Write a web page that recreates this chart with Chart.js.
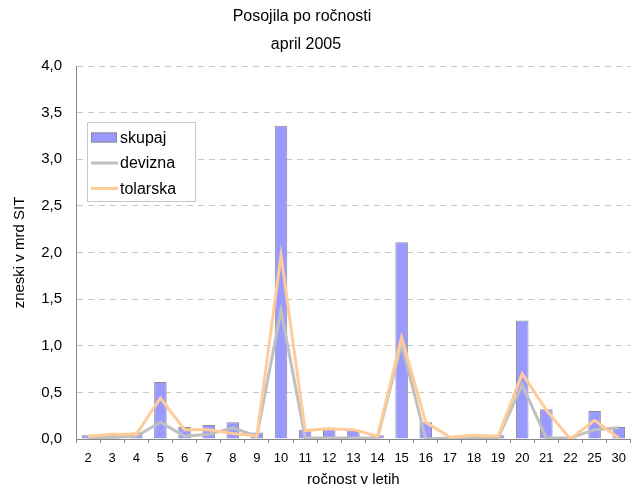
<!DOCTYPE html>
<html>
<head>
<meta charset="utf-8">
<script src="https://cdn.jsdelivr.net/npm/chart.js@4/dist/chart.umd.min.js"></script>
<style>
  html, body { margin: 0; padding: 0; background: #fff; }
  #wrap { width: 634px; height: 493px; }
</style>
</head>
<body>
<div id="wrap"><canvas id="chart" width="634" height="493"></canvas></div>
<script>
// ročnost v letih
const labels = ['2','3','4','5','6','7','8','9','10','11','12','13','14','15','16','17','18','19','20','21','22','25','30'];

// zneski v mrd SIT
const skupaj   = [0.04, 0.06, 0.07, 0.61, 0.13, 0.15, 0.18, 0.07, 3.36, 0.10, 0.12, 0.10, 0.04, 2.11, 0.18, 0.01, 0.01, 0.04, 1.27, 0.32, 0.01, 0.30, 0.13];
const devizna  = [0.01, 0.02, 0.03, 0.18, 0.03, 0.05, 0.12, 0.03, 1.38, 0.01, 0.01, 0.01, 0.01, 1.02, 0.00, 0.01, 0.01, 0.01, 0.58, 0.01, 0.01, 0.10, 0.12];
const tolarska = [0.03, 0.05, 0.05, 0.44, 0.10, 0.10, 0.06, 0.03, 1.97, 0.09, 0.11, 0.10, 0.03, 1.09, 0.18, 0.02, 0.04, 0.03, 0.70, 0.31, 0.00, 0.20, 0.01];

const yTicks = [0, 0.5, 1, 1.5, 2, 2.5, 3, 3.5, 4];
const titleLines = ['Posojila po ročnosti', 'april 2005'];

const FONT = 'Liberation Sans, Arial, sans-serif';

// two line title, placed a bit left of centre like the original
const titlePlugin = {
    id: 'titleLines',
    afterDraw(chart) {
        const ctx = chart.ctx;
        ctx.save();
        ctx.fillStyle = '#000';
        ctx.font = '16px ' + FONT;
        ctx.textAlign = 'center';
        ctx.textBaseline = 'middle';
        ctx.fillText(titleLines[0], 302, 17);
        ctx.fillText(titleLines[1], 306, 45);
        ctx.restore();
    }
};

// legend box drawn inside the plot
const boxLegend = {
    id: 'boxLegend',
    afterDraw(chart) {
        const ctx = chart.ctx;
        const x = 87, y = 122, w = 108, h = 79;
        ctx.save();
        ctx.fillStyle = '#ffffff';
        ctx.fillRect(x, y, w, h);
        ctx.strokeStyle = '#c8c8c8';
        ctx.lineWidth = 1;
        ctx.strokeRect(x + 0.5, y + 0.5, w, h);
        ctx.font = '16px ' + FONT;
        ctx.textBaseline = 'middle';
        chart.data.datasets.forEach(function(ds, i) {
            const cy = y + 15.5 + i * 25.5;
            if (ds.type === 'line') {
                ctx.strokeStyle = ds.borderColor;
                ctx.lineWidth = 3;
                ctx.beginPath();
                ctx.moveTo(x + 4, cy);
                ctx.lineTo(x + 31, cy);
                ctx.stroke();
            } else {
                ctx.fillStyle = ds.backgroundColor;
                ctx.fillRect(x + 4, cy - 5, 26, 10);
                ctx.strokeStyle = ds.borderColor;
                ctx.lineWidth = 1;
                ctx.strokeRect(x + 4.5, cy - 4.5, 25, 9);
            }
            ctx.fillStyle = '#000';
            ctx.fillText(ds.label, x + 33, cy + 1);
        });
        ctx.restore();
    }
};

const ctx = document.getElementById('chart').getContext('2d');
const chart = new Chart(ctx, {
    type: 'bar',
    data: {
        labels: labels,
        datasets: [
            {
                type: 'bar',
                label: 'skupaj',
                data: skupaj,
                backgroundColor: '#9999FF',
                borderColor: '#8c8c8c',
                borderWidth: 1,
                barPercentage: 0.52,
                categoryPercentage: 1.0,
                order: 3
            },
            {
                type: 'line',
                label: 'devizna',
                data: devizna,
                borderColor: '#C0C0C0',
                borderWidth: 3,
                pointRadius: 0,
                tension: 0,
                order: 2
            },
            {
                type: 'line',
                label: 'tolarska',
                data: tolarska,
                borderColor: '#FFCC99',
                borderWidth: 3,
                pointRadius: 0,
                tension: 0,
                order: 1
            }
        ]
    },
    options: {
        responsive: false,
        animation: false,
        layout: { padding: { left: 0, right: 3, top: 66, bottom: 0 } },
        plugins: {
            legend: { display: false },
            tooltip: { enabled: false },
            title: { display: false }
        },
        scales: {
            x: {
                offset: true,
                grid: {
                    offset: true,
                    drawOnChartArea: false,
                    drawTicks: true,
                    tickLength: 4,
                    color: '#888888'
                },
                border: { color: '#888888', width: 1 },
                ticks: {
                    color: '#000',
                    font: { family: FONT, size: 13 },
                    maxRotation: 0,
                    autoSkip: false,
                    padding: 8
                },
                title: {
                    display: true,
                    text: 'ročnost v letih',
                    color: '#000',
                    font: { family: FONT, size: 15 },
                    padding: { top: 0, bottom: 4 }
                },
                afterFit(scale) { scale.height = 54; }
            },
            y: {
                min: 0,
                max: 4,
                afterBuildTicks(scale) {
                    scale.ticks = yTicks.map(v => ({ value: v }));
                },
                grid: {
                    color: '#c8c8c8',
                    drawTicks: false
                },
                border: { color: '#888888', width: 1, dash: [6, 5] },
                ticks: {
                    color: '#000',
                    font: { family: FONT, size: 15 },
                    padding: 14,
                    callback: v => v.toFixed(1).replace('.', ',')
                },
                title: {
                    display: true,
                    text: 'zneski v mrd SIT',
                    color: '#000',
                    font: { family: FONT, size: 15 },
                    padding: { top: 11, bottom: 0 }
                },
                afterFit(scale) { scale.width = 76; }
            }
        }
    },
    plugins: [titlePlugin, boxLegend]
});
</script>
</body>
</html>
